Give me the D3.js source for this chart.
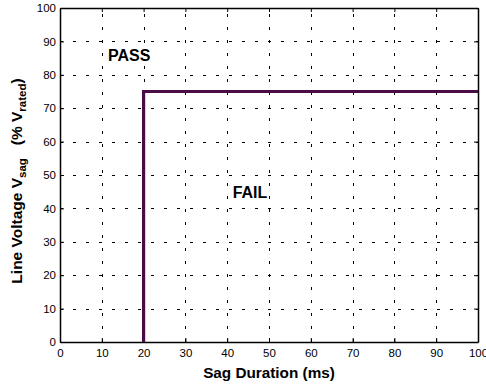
<!DOCTYPE html>
<html>
<head>
<meta charset="utf-8">
<script src="https://cdn.jsdelivr.net/npm/d3@7"></script>
<style>
  html, body { margin: 0; padding: 0; background: #fff; }
  svg { display: block; }
  text { font-family: "Liberation Sans", Arial, Helvetica, sans-serif; fill: #000; }
</style>
</head>
<body>
<svg id="chart" width="486" height="388"></svg>
<script>
// Sag duration tick values (ms) and voltage tick values (% of rated)
const durationTicks = [0, 10, 20, 30, 40, 50, 60, 70, 80, 90, 100];
const voltageTicks = [0, 10, 20, 30, 40, 50, 60, 70, 80, 90, 100];

// Pass/fail boundary: sag duration (ms) and line voltage (% rated)
const boundaryDuration = [20, 20, 100];
const boundaryVoltage = [0, 75, 75];

// Region labels
const regionNames = ["PASS", "FAIL"];
const regionDuration = [11.5, 41.3];
const regionVoltage = [84.1, 43.0];

const svg = d3.select("#chart");
const plotLeft = 60, plotRight = 478, plotTop = 8, plotBottom = 342;

const x = d3.scaleLinear().domain([0, 100]).range([plotLeft, plotRight]);
const y = d3.scaleLinear().domain([0, 100]).range([plotBottom, plotTop]);

// dotted grid
const grid = svg.append("g")
  .attr("stroke", "#000").attr("stroke-width", 1)
  .attr("stroke-dasharray", "3,10").attr("fill", "none");
grid.selectAll("line.h")
  .data(voltageTicks.filter(d => d > 0 && d < 100))
  .join("line").attr("class", "h")
  .attr("x1", plotLeft).attr("x2", plotRight)
  .attr("y1", d => Math.round(y(d)) + 0.5).attr("y2", d => Math.round(y(d)) + 0.5);
grid.selectAll("line.v")
  .data(durationTicks.filter(d => d > 0 && d < 100))
  .join("line").attr("class", "v")
  .attr("y1", plotBottom).attr("y2", plotTop)
  .attr("x1", d => Math.round(x(d)) + 0.5).attr("x2", d => Math.round(x(d)) + 0.5);

// axes with inward ticks on all four sides
const tickLen = 4;
const gBottom = svg.append("g").attr("transform", `translate(0,${plotBottom})`)
  .call(d3.axisBottom(x).tickValues(durationTicks).tickSizeInner(-tickLen).tickSizeOuter(0).tickPadding(7));
const gLeft = svg.append("g").attr("transform", `translate(${plotLeft},0)`)
  .call(d3.axisLeft(y).tickValues(voltageTicks).tickSizeInner(-tickLen).tickSizeOuter(0).tickPadding(4));
const gTop = svg.append("g").attr("transform", `translate(0,${plotTop})`)
  .call(d3.axisTop(x).tickValues(durationTicks).tickSizeInner(-tickLen).tickSizeOuter(0).tickFormat(""));
const gRight = svg.append("g").attr("transform", `translate(${plotRight},0)`)
  .call(d3.axisRight(y).tickValues(voltageTicks).tickSizeInner(-tickLen).tickSizeOuter(0).tickFormat(""));

[gBottom, gLeft, gTop, gRight].forEach(g => {
  g.select(".domain").attr("stroke", "#000").attr("stroke-width", 1.5);
  g.selectAll(".tick line").attr("stroke", "#000").attr("stroke-width", 1);
  g.selectAll(".tick text").attr("font-size", 11.5).attr("font-family", "Liberation Sans, Arial, sans-serif").attr("fill", "#000");
});

// pass/fail boundary
const line = d3.line().x(d => x(d[0])).y(d => y(d[1]));
svg.append("path")
  .datum(boundaryDuration.map((d, i) => [d, boundaryVoltage[i]]))
  .attr("d", line)
  .attr("fill", "none")
  .attr("stroke", "#4b0b47")
  .attr("stroke-width", 3.2);

// region labels
svg.selectAll("text.region")
  .data(regionNames)
  .join("text")
  .attr("class", "region")
  .attr("x", (d, i) => x(regionDuration[i]))
  .attr("y", (d, i) => y(regionVoltage[i]))
  .attr("font-size", 16)
  .attr("font-weight", "bold")
  .text(d => d);

// axis titles
svg.append("text")
  .attr("x", (plotLeft + plotRight) / 2).attr("y", 378)
  .attr("text-anchor", "middle")
  .attr("font-size", 15.3).attr("font-weight", "bold")
  .text("Sag Duration (ms)");

const yTitle = svg.append("text")
  .attr("transform", `translate(22,181) rotate(-90)`)
  .attr("text-anchor", "middle")
  .attr("font-size", 15.5).attr("font-weight", "bold");
yTitle.append("tspan").text("Line Voltage V");
yTitle.append("tspan").attr("font-size", 11.5).attr("dy", 4).text("sag");
yTitle.append("tspan").attr("dy", -4).text("\u00a0\u00a0\u00a0(% V");
yTitle.append("tspan").attr("font-size", 11.5).attr("dy", 4).text("rated");
yTitle.append("tspan").attr("dy", -4).text(")");
</script>
</body>
</html>
